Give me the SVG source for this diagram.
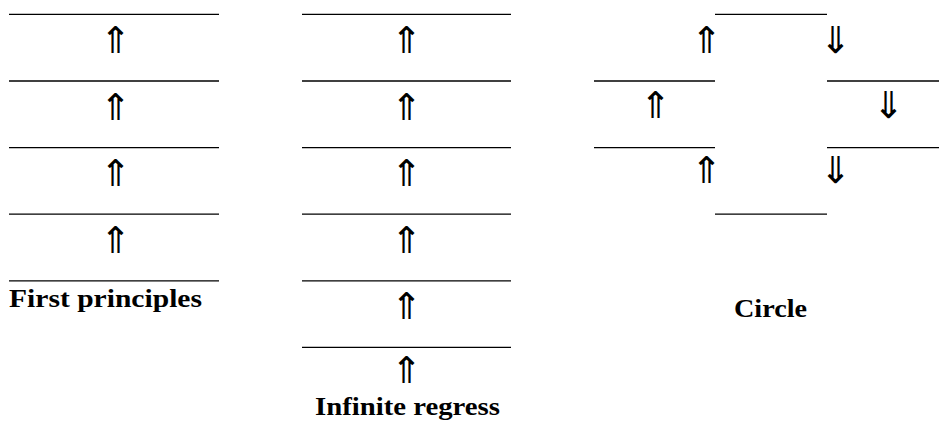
<svg xmlns="http://www.w3.org/2000/svg" width="939" height="425" viewBox="0 0 939 425">
<style>
.ln{stroke:#000;stroke-width:1.3;fill:none}
.ar{font-family:"DejaVu Sans",sans-serif;font-weight:200;font-size:37px;text-anchor:middle;fill:#000}
.lb{font-family:"Liberation Serif","Times New Roman",serif;font-weight:bold;font-size:25px;fill:#000}
</style>
<rect width="939" height="425" fill="#fff"/>
<g id="first-principles">
<g id="fp-levels">
<line class="ln" x1="9" y1="14.3" x2="219" y2="14.3"/>
<line class="ln" x1="9" y1="81" x2="219" y2="81"/>
<line class="ln" x1="9" y1="147.6" x2="219" y2="147.6"/>
<line class="ln" x1="9" y1="214.2" x2="219" y2="214.2"/>
<line class="ln" x1="9" y1="280.8" x2="219" y2="280.8"/>
</g>
<g id="fp-arrows">
<text class="ar" x="115" y="53">⇑</text>
<text class="ar" x="115" y="119.6">⇑</text>
<text class="ar" x="115" y="186.2">⇑</text>
<text class="ar" x="115" y="252.8">⇑</text>
</g>
<text class="lb" x="9" y="307" textLength="193" lengthAdjust="spacingAndGlyphs">First principles</text>
</g>
<g id="infinite-regress">
<g id="ir-levels">
<line class="ln" x1="302" y1="14.3" x2="511" y2="14.3"/>
<line class="ln" x1="302" y1="81" x2="511" y2="81"/>
<line class="ln" x1="302" y1="147.6" x2="511" y2="147.6"/>
<line class="ln" x1="302" y1="214.2" x2="511" y2="214.2"/>
<line class="ln" x1="302" y1="280.8" x2="511" y2="280.8"/>
<line class="ln" x1="302" y1="347.4" x2="511" y2="347.4"/>
</g>
<g id="ir-arrows">
<text class="ar" x="406" y="53">⇑</text>
<text class="ar" x="406" y="119.6">⇑</text>
<text class="ar" x="406" y="186.2">⇑</text>
<text class="ar" x="406" y="252.8">⇑</text>
<text class="ar" x="406" y="319.4">⇑</text>
<text class="ar" x="406" y="383">⇑</text>
</g>
<text class="lb" x="315" y="415" textLength="185" lengthAdjust="spacingAndGlyphs">Infinite regress</text>
</g>
<g id="circle">
<g id="c-levels">
<line class="ln" x1="715" y1="14.3" x2="827" y2="14.3"/>
<line class="ln" x1="594" y1="81" x2="715" y2="81"/>
<line class="ln" x1="827" y1="81" x2="939" y2="81"/>
<line class="ln" x1="594" y1="147.6" x2="715" y2="147.6"/>
<line class="ln" x1="827" y1="147.6" x2="939" y2="147.6"/>
<line class="ln" x1="715" y1="214.2" x2="827" y2="214.2"/>
</g>
<g id="c-arrows">
<text class="ar" x="706" y="53">⇑</text>
<text class="ar" x="835" y="53">⇓</text>
<text class="ar" x="655" y="118">⇑</text>
<text class="ar" x="888" y="118">⇓</text>
<text class="ar" x="706" y="183">⇑</text>
<text class="ar" x="835" y="183">⇓</text>
</g>
<text class="lb" x="734" y="317" textLength="73" lengthAdjust="spacingAndGlyphs">Circle</text>
</g>
</svg>
